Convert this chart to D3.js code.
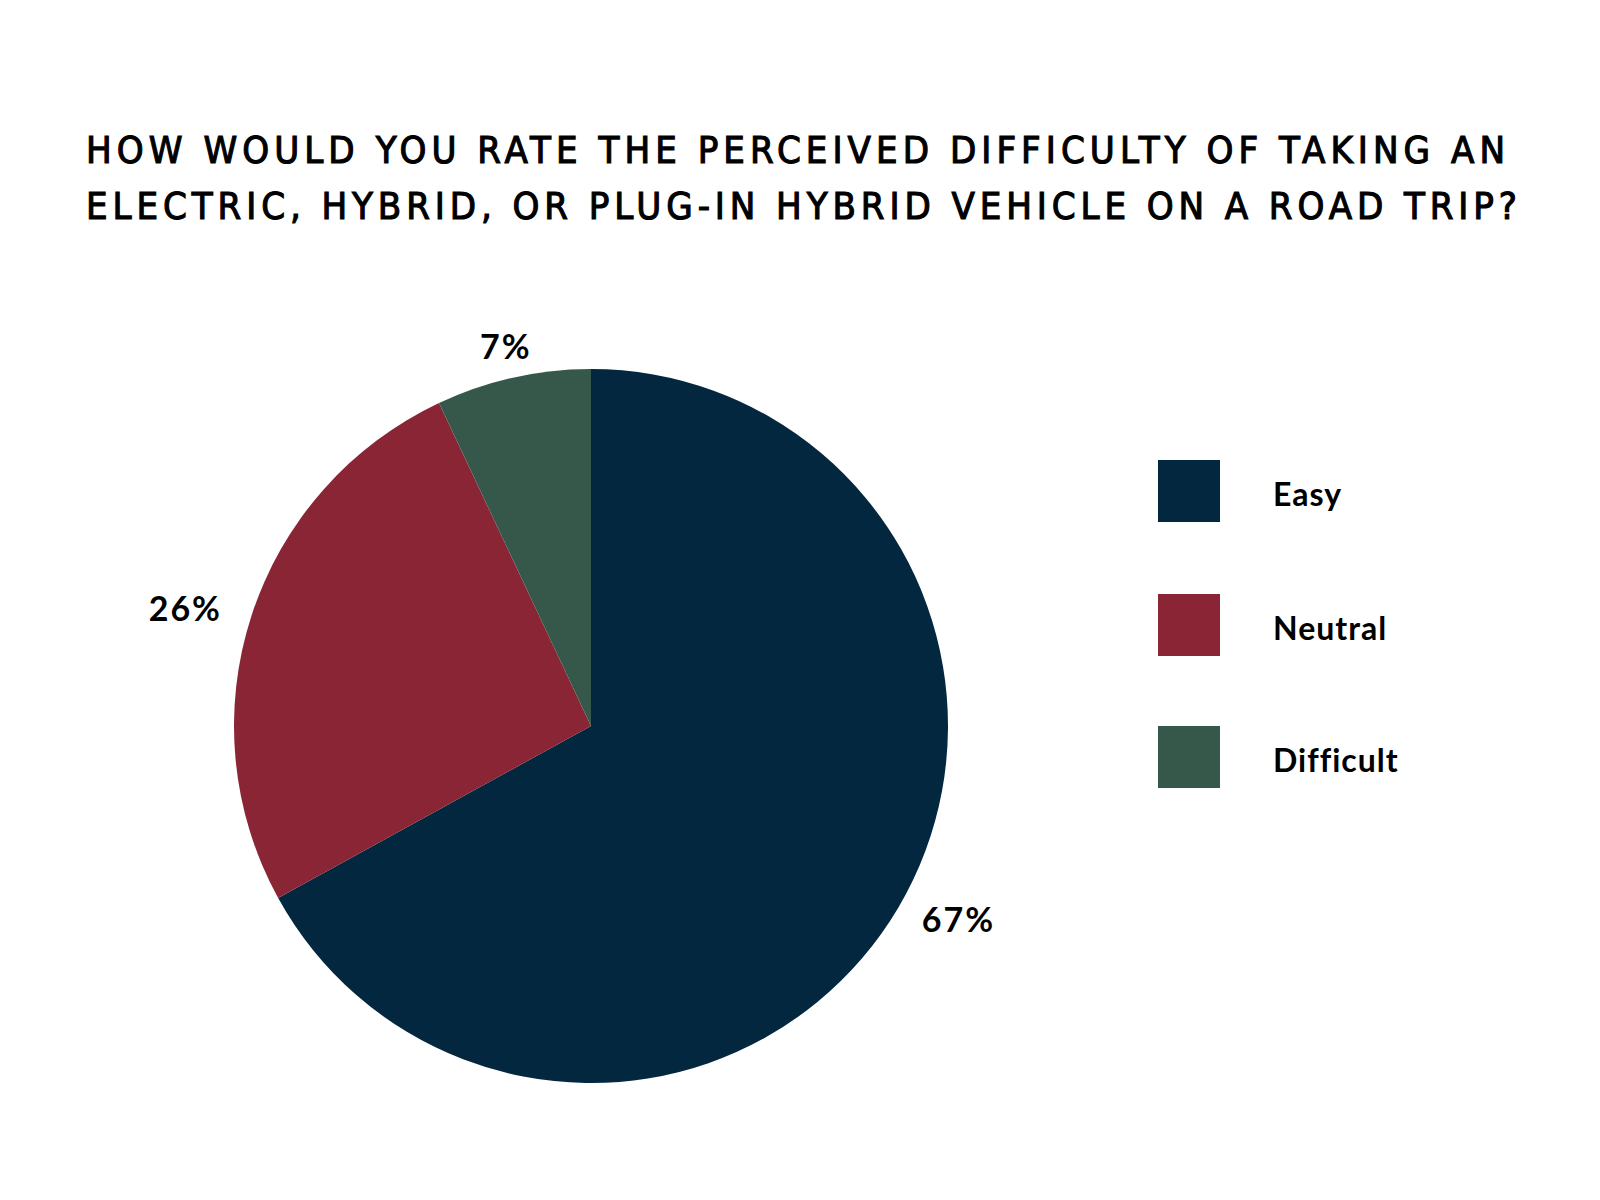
<!DOCTYPE html>
<html>
<head>
<meta charset="utf-8">
<script src="https://cdn.jsdelivr.net/npm/d3@7"></script>
<style>
  html, body { margin: 0; padding: 0; background: #fff; }
</style>
</head>
<body>
<script>
// chart data
var titleLines = [
  "HOW WOULD YOU RATE THE PERCEIVED DIFFICULTY OF TAKING AN",
  "ELECTRIC, HYBRID, OR PLUG-IN HYBRID VEHICLE ON A ROAD TRIP?"
];
var categories = ["Easy", "Neutral", "Difficult"];
var values = [67, 26, 7];
var sliceColors = ["#03273f", "#8a2535", "#35584a"];

var width = 1600, height = 1200;

var svg = d3.select("body").append("svg")
  .attr("width", width)
  .attr("height", height);

svg.append("rect").attr("width", width).attr("height", height).attr("fill", "#fff");

// title, stretched to the same width as the reference
var titleWidths = [1419, 1431];
svg.selectAll("text.title")
  .data(titleLines)
  .enter().append("text")
  .attr("class", "title")
  .attr("x", 86)
  .attr("y", function(d, i){ return 163 + i * 56; })
  .attr("textLength", function(d, i){ return titleWidths[i]; })
  .attr("lengthAdjust", "spacing")
  .attr("font-family", "'Liberation Sans Narrow', 'DejaVu Sans Condensed', sans-serif")
  .attr("font-size", 38)
  .attr("font-weight", "normal")
  .attr("stroke", "#000")
  .attr("stroke-width", 1.1)
  .attr("fill", "#000")
  .text(function(d){ return d; });

var color = d3.scaleOrdinal().domain(categories).range(sliceColors);

var cx = 591, cy = 726, r = 357;

var pie = d3.pie().sort(null).value(function(d){ return d.value; });
var data = categories.map(function(c, i){ return { name: c, value: values[i] }; });
var arcs = pie(data);

var arc = d3.arc().innerRadius(0).outerRadius(r);

var g = svg.append("g").attr("transform", "translate(" + cx + "," + cy + ")");

g.selectAll("path")
  .data(arcs)
  .enter().append("path")
  .attr("d", arc)
  .attr("fill", function(d){ return color(d.data.name); });

// labels outside the slices
var labels = g.selectAll("text.lbl")
  .data(arcs)
  .enter().append("text")
  .attr("class", "lbl")
  .attr("font-family", "Lato, 'Open Sans', sans-serif")
  .attr("font-weight", "bold")
  .attr("font-size", 34)
  .attr("letter-spacing", 2)
  .attr("text-anchor", "middle")
  .attr("fill", "#000")
  .text(function(d){ return d.data.value + "%"; });

labels.each(function(d){
  var bb = this.getBBox();
  var a = (d.startAngle + d.endAngle) / 2;
  var sx = Math.sin(a), sy = -Math.cos(a);
  var offX = r + 14 + Math.abs(sx) * (bb.width / 2 + 18) + Math.abs(sy) * 15;
  var offY = r + 17 + Math.abs(sy) * 15;
  d3.select(this)
    .attr("x", sx * offX + 1)
    .attr("y", sy * offY + 12);
});

// legend
var legend = svg.append("g");
var rows = legend.selectAll("g")
  .data(categories)
  .enter().append("g")
  .attr("transform", function(d, i){ return "translate(1158," + [460, 594, 726][i] + ")"; });

rows.append("rect")
  .attr("width", 62)
  .attr("height", 62)
  .attr("fill", function(d){ return color(d); });

rows.append("text")
  .attr("x", 115)
  .attr("y", 46)
  .attr("font-family", "Lato, 'Open Sans', sans-serif")
  .attr("font-weight", "bold")
  .attr("font-size", 32)
  .attr("letter-spacing", 1)
  .attr("fill", "#000")
  .text(function(d){ return d; });
</script>
</body>
</html>
